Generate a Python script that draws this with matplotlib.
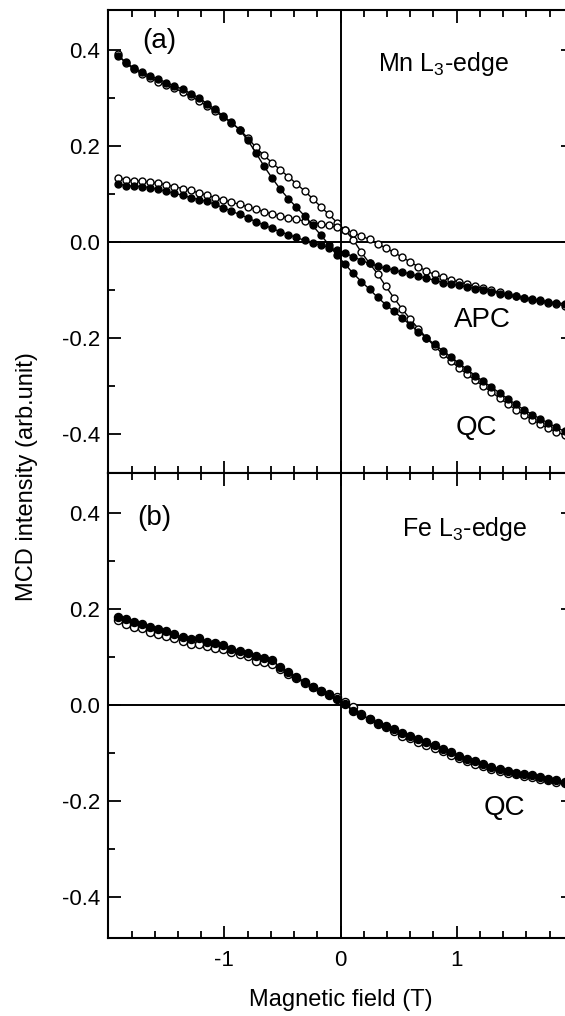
import matplotlib
matplotlib.use("Agg")
import matplotlib.pyplot as plt
from matplotlib.ticker import MultipleLocator

plt.rcParams['font.family'] = ['Liberation Sans', 'DejaVu Sans']
plt.rcParams['mathtext.fontset'] = 'custom'
plt.rcParams['mathtext.rm'] = 'Liberation Sans'

#------------------------------------data------------------------------------
field = [-1.92, -1.85, -1.78, -1.71, -1.64, -1.57, -1.50, -1.43, -1.36, -1.29,
         -1.22, -1.15, -1.08, -1.01, -0.94, -0.87, -0.80, -0.73, -0.66, -0.59,
         -0.52, -0.45, -0.38, -0.31, -0.24, -0.17, -0.10, -0.03, 0.04, 0.11,
         0.18, 0.25, 0.32, 0.39, 0.46, 0.53, 0.60, 0.67, 0.74, 0.81,
         0.88, 0.95, 1.02, 1.09, 1.16, 1.23, 1.30, 1.37, 1.44, 1.51,
         1.58, 1.65, 1.72, 1.79, 1.86, 1.93]

# (a) Mn L3-edge, QC
mn_qc_filled = [0.387, 0.375, 0.362, 0.354, 0.346, 0.339, 0.332, 0.325, 0.318, 0.309,
                0.300, 0.288, 0.276, 0.262, 0.249, 0.234, 0.212, 0.186, 0.158, 0.133,
                0.110, 0.090, 0.072, 0.054, 0.034, 0.014, -0.006, -0.028, -0.047, -0.066,
                -0.083, -0.099, -0.116, -0.131, -0.145, -0.159, -0.173, -0.187, -0.200, -0.214,
                -0.227, -0.240, -0.253, -0.266, -0.279, -0.291, -0.303, -0.315, -0.327, -0.339,
                -0.350, -0.360, -0.369, -0.378, -0.387, -0.395]
mn_qc_open = [0.392, 0.372, 0.360, 0.350, 0.342, 0.334, 0.327, 0.320, 0.312, 0.303,
              0.294, 0.283, 0.272, 0.260, 0.248, 0.234, 0.217, 0.197, 0.180, 0.165,
              0.150, 0.136, 0.121, 0.106, 0.090, 0.073, 0.057, 0.040, 0.024, 0.004,
              -0.022, -0.045, -0.067, -0.093, -0.117, -0.140, -0.161, -0.181, -0.200, -0.218,
              -0.233, -0.248, -0.263, -0.276, -0.289, -0.301, -0.313, -0.326, -0.338, -0.350,
              -0.361, -0.371, -0.380, -0.389, -0.396, -0.403]

# (a) Mn L3-edge, APC
mn_apc_filled = [0.121, 0.117, 0.116, 0.115, 0.113, 0.109, 0.105, 0.101, 0.097, 0.092,
                 0.088, 0.084, 0.078, 0.071, 0.064, 0.057, 0.050, 0.042, 0.035, 0.028,
                 0.021, 0.015, 0.009, 0.003, -0.002, -0.007, -0.012, -0.018, -0.024, -0.031,
                 -0.039, -0.045, -0.051, -0.055, -0.059, -0.063, -0.067, -0.072, -0.076, -0.080,
                 -0.085, -0.088, -0.091, -0.094, -0.098, -0.101, -0.104, -0.108, -0.111, -0.114,
                 -0.117, -0.119, -0.122, -0.125, -0.127, -0.129]
mn_apc_open = [0.134, 0.129, 0.127, 0.126, 0.124, 0.122, 0.119, 0.115, 0.111, 0.107,
               0.102, 0.097, 0.092, 0.087, 0.083, 0.078, 0.073, 0.068, 0.063, 0.058,
               0.054, 0.050, 0.047, 0.043, 0.040, 0.037, 0.034, 0.030, 0.025, 0.019,
               0.012, 0.005, -0.004, -0.013, -0.022, -0.032, -0.042, -0.052, -0.061, -0.068,
               -0.074, -0.079, -0.084, -0.088, -0.093, -0.097, -0.101, -0.105, -0.109, -0.113,
               -0.117, -0.121, -0.124, -0.127, -0.130, -0.133]

# (b) Fe L3-edge, QC
fe_qc_filled = [0.182, 0.178, 0.172, 0.169, 0.163, 0.157, 0.153, 0.147, 0.141, 0.138,
                0.139, 0.131, 0.128, 0.124, 0.117, 0.113, 0.108, 0.102, 0.098, 0.093,
                0.078, 0.068, 0.058, 0.048, 0.038, 0.029, 0.021, 0.012, 0.002, -0.012,
                -0.022, -0.030, -0.038, -0.045, -0.051, -0.058, -0.064, -0.071, -0.077, -0.084,
                -0.091, -0.099, -0.106, -0.112, -0.118, -0.124, -0.129, -0.133, -0.137, -0.141,
                -0.144, -0.147, -0.151, -0.154, -0.157, -0.160]
fe_qc_open = [0.176, 0.168, 0.163, 0.159, 0.152, 0.148, 0.143, 0.139, 0.133, 0.127,
              0.126, 0.123, 0.119, 0.116, 0.110, 0.106, 0.101, 0.092, 0.090, 0.085,
              0.074, 0.064, 0.055, 0.046, 0.037, 0.029, 0.022, 0.016, 0.006, -0.004,
              -0.020, -0.030, -0.040, -0.047, -0.055, -0.064, -0.070, -0.077, -0.083, -0.090,
              -0.097, -0.104, -0.110, -0.117, -0.123, -0.128, -0.134, -0.138, -0.142, -0.145,
              -0.149, -0.151, -0.154, -0.157, -0.160, -0.163]

yticks = [-0.4, -0.2, 0.0, 0.2, 0.4]
ytick_labels = ["-0.4", "-0.2", "0.0", "0.2", "0.4"]
xticks = [-1, 0, 1]
xtick_labels = ["-1", "0", "1"]

#------------------------------------helpers------------------------------------

def pair(ax, x, yf, yo, ms=5.0):
    ax.plot(x, yo, '-o', color='k', lw=1.0, ms=ms, mfc='white', mec='k', mew=1.0, zorder=3)
    ax.plot(x, yf, '-o', color='k', lw=1.0, ms=ms, mfc='k', mec='k', mew=1.0, zorder=4)

def style(ax, ylim, showx):
    ax.set_xlim(-2, 2)
    ax.set_ylim(ylim)
    ax.axhline(0, color='k', lw=1.4, zorder=2)
    ax.axvline(0, color='k', lw=1.4, zorder=2)
    ax.set_xticks(xticks)
    ax.set_yticks(yticks)
    ax.set_yticklabels(ytick_labels)
    if showx:
        ax.set_xticklabels(xtick_labels)
    else:
        ax.set_xticklabels([])
    ax.xaxis.set_minor_locator(MultipleLocator(0.2))
    ax.yaxis.set_minor_locator(MultipleLocator(0.1))
    ax.tick_params(which='both', direction='in', top=True, right=True, width=1.3, labelsize=16)
    ax.tick_params(which='major', length=9)
    ax.tick_params(which='minor', length=5)
    ax.tick_params(axis='x', pad=9)
    ax.tick_params(axis='y', pad=6)
    for s in ax.spines.values():
        s.set_linewidth(1.5)

#------------------------------------figure------------------------------------
fig = plt.figure(figsize=(5.65, 10.16), dpi=100)
ax1 = fig.add_axes([0.1917, 0.5344, 0.822, 0.4557])
ax2 = fig.add_axes([0.1917, 0.0771, 0.822, 0.4574])

pair(ax1, field, mn_qc_filled, mn_qc_open)
pair(ax1, field, mn_apc_filled, mn_apc_open)
style(ax1, (-0.482, 0.483), False)
ax1.text(-1.56, 0.418, "(a)", fontsize=20, ha='center', va='center')
ax1.text(0.32, 0.355, r"Mn L$_3$-edge", fontsize=18, ha='left', va='baseline')
ax1.text(1.22, -0.177, "APC", fontsize=20, ha='center', va='baseline')
ax1.text(1.17, -0.403, "QC", fontsize=20, ha='center', va='baseline')

pair(ax2, field, fe_qc_filled, fe_qc_open, ms=5.8)
style(ax2, (-0.485, 0.483), True)
ax2.text(-1.605, 0.39, "(b)", fontsize=20, ha='center', va='center')
ax2.text(0.53, 0.351, r"Fe L$_3$-edge", fontsize=18, ha='left', va='baseline')
ax2.text(1.41, -0.230, "QC", fontsize=20, ha='center', va='baseline')

fig.text(27/565, 1-477/1016, "MCD intensity (arb.unit)", rotation=90, fontsize=17, ha='center', va='center')
fig.text(341/565, 1-1000/1016, "Magnetic field (T)", fontsize=17, ha='center', va='center')

fig.savefig("out.png", dpi=100)
